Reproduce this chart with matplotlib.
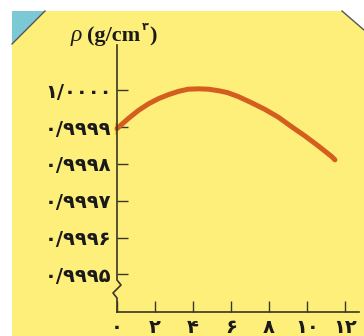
import matplotlib
matplotlib.use("Agg")
import matplotlib.pyplot as plt
from matplotlib.patches import Polygon
from matplotlib.lines import Line2D

# ---- data ----
temp_c = [0.0, 0.59, 1.12, 1.65, 2.17, 2.70, 3.23, 3.75, 4.28, 4.81, 5.33, 5.80,
          6.38, 7.09, 7.79, 8.49, 9.19, 9.89, 10.59, 11.30, 11.47]
density = [0.999896, 0.999923, 0.999945, 0.999963, 0.999977, 0.999988, 0.999997,
           1.000003, 1.000004, 1.000003, 0.999999, 0.999994, 0.999983, 0.999966,
           0.999948, 0.999927, 0.999901, 0.999876, 0.999849, 0.999820, 0.999811]
x_ticks = [0, 2, 4, 6, 8, 10, 12]
x_tick_labels = ["۰", "۲", "۴", "۶", "۸", "۱۰", "۱۲"]
y_ticks = [0.9995, 0.9996, 0.9997, 0.9998, 0.9999, 1.0000]
y_tick_labels = ["۰/۹۹۹۵", "۰/۹۹۹۶", "۰/۹۹۹۷", "۰/۹۹۹۸", "۰/۹۹۹۹", "۱/۰۰۰۰"]

W, H = 364, 336
DPI = 100
YELLOW = "#FEEF7A"
BLUE = "#7DC8D5"
CURVE = "#D45E1E"
AXC = "#3b3526"

fig = plt.figure(figsize=(W / DPI, H / DPI), dpi=DPI)
fig.patch.set_facecolor("white")

def fx(px):
    return px / W

def fy(py):
    return 1 - py / H

# background panel with cut corners
panel = Polygon([(fx(12), fy(44)), (fx(12), fy(336)), (fx(364), fy(336)),
                 (fx(364), fy(30)), (fx(342), fy(11)), (fx(45), fy(11))],
                closed=True, transform=fig.transFigure, facecolor=YELLOW,
                edgecolor="none", zorder=-10)
fig.patches.append(panel)
tri = Polygon([(fx(12), fy(11)), (fx(45), fy(11)), (fx(12), fy(44))],
              closed=True, transform=fig.transFigure, facecolor=BLUE,
              edgecolor="none", zorder=-10)
fig.patches.append(tri)
fig.lines.append(Line2D([fx(45), fx(12)], [fy(11), fy(44)], transform=fig.transFigure,
                        color="#555555", lw=1.0, zorder=-9))
fig.lines.append(Line2D([fx(342), fx(364)], [fy(11), fy(30)], transform=fig.transFigure,
                        color="#555555", lw=1.0, zorder=-9))

# axes: left 117, right 359, top 45, bottom 312 (pixels)
L, R, T, B = 117, 359, 45, 312
ax = fig.add_axes([L / W, (H - B) / H, (R - L) / W, (B - T) / H])
ax.set_facecolor("none")
ax.set_zorder(1)

ax.set_xlim(0, (R - L) / 19.0)
ax.set_ylim(1.0 - (B - 90.3) / 368000.0, 1.0 + (90.3 - T) / 368000.0)

ax.plot(temp_c, density, color=CURVE, lw=3.6, solid_capstyle="round",
        solid_joinstyle="round", zorder=3, clip_on=False)
ax.plot(temp_c[:1], density[:1], linestyle="none",
        marker=[(-0.45, -1), (0, -1), (0, 1), (-0.45, 1)],
        markersize=8, markerfacecolor="#F2D400", markeredgewidth=0, zorder=2, clip_on=False)

for s in ["top", "right", "left"]:
    ax.spines[s].set_visible(False)
ax.spines["bottom"].set_color(AXC)
ax.spines["bottom"].set_linewidth(1.2)

# left axis line with break
dx = 4.0 / (R - L)
def ay(py):
    return (B - py) / (B - T)
ax.plot([0, 0, dx, -dx, 0, 0], [1, ay(280), ay(285), ay(293), ay(298), 0],
        transform=ax.transAxes, color=AXC, lw=1.2, clip_on=False, zorder=4)

ax.set_xticks(x_ticks)
ax.set_xticklabels(x_tick_labels)
ax.set_yticks(y_ticks)
ax.set_yticklabels(y_tick_labels)
ax.tick_params(axis="both", direction="in", length=8, width=1.0, color=AXC,
               labelcolor="#1a1a1a", labelsize=14)
ax.tick_params(axis="x", pad=4)
ax.tick_params(axis="y", pad=4)
for lab in ax.get_xticklabels() + ax.get_yticklabels():
    lab.set_fontweight("bold")
    lab.set_family(["DejaVu Sans"])

# axis title: rho (g/cm^3)
fig.canvas.draw()
r = fig.canvas.get_renderer()
t1 = fig.text(fx(71), fy(41), "ρ", family=["Liberation Serif"], style="italic",
              fontsize=17, color="#1a1a1a")
bb = t1.get_window_extent(r)
t2 = fig.text(bb.x1 / W + fx(5), fy(41), "(g/cm", family=["Liberation Serif"],
              fontweight="bold", fontsize=16, color="#1a1a1a")
bb2 = t2.get_window_extent(r)
t3 = fig.text(bb2.x1 / W + fx(1), fy(30), "۳", family=["DejaVu Sans"],
              fontweight="bold", fontsize=8, color="#1a1a1a")
bb3 = t3.get_window_extent(r)
fig.text(bb3.x1 / W + fx(1), fy(41), ")", family=["Liberation Serif"],
         fontweight="bold", fontsize=16, color="#1a1a1a")

fig.savefig("out.png", dpi=DPI, facecolor="white")
